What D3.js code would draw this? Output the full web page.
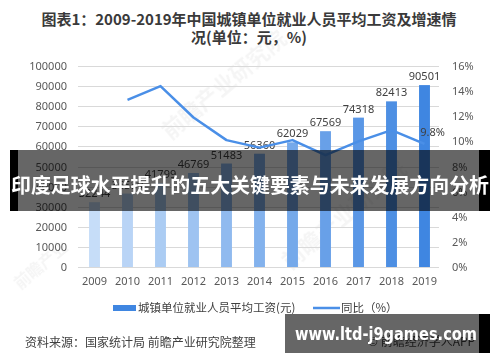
<!DOCTYPE html>
<html>
<head>
<meta charset="utf-8">
<script src="https://cdn.jsdelivr.net/npm/d3@7"></script>
<style>
  body { margin: 0; background: #fff; }
  svg { display: block; font-family: "Noto Sans CJK SC", "Noto Sans", sans-serif; }
</style>
</head>
<body>
<svg id="chart" width="500" height="362"></svg>
<script>
'use strict';

var years = ['2009', '2010', '2011', '2012', '2013', '2014', '2015', '2016', '2017', '2018', '2019'];
var wages = [32244, 36539, 41799, 46769, 51483, 56360, 62029, 67569, 74318, 82413, 90501];
var growth = [null, 13.3, 14.4, 11.9, 10.1, 9.5, 10.1, 8.9, 10.0, 10.9, 9.8];
var leftTicks = [0, 10000, 20000, 30000, 40000, 50000, 60000, 70000, 80000, 90000, 100000];
var rightTicks = [0, 2, 4, 6, 8, 10, 12, 14, 16];

var titleLines = ['图表1：2009-2019年中国城镇单位就业人员平均工资及增速情', '况(单位：元，%)'];
var seriesNames = ['城镇单位就业人员平均工资(元)', '同比（%）'];
var sourceText = '资料来源：国家统计局 前瞻产业研究院整理';
var bannerText = '印度足球水平提升的五大关键要素与未来发展方向分析';
var siteText = 'www.ltd-j9games.com';

(function () {
  var svg = d3.select('#chart');

  var plotLeft = 78,
      plotRight = 441,
      plotTop = 66,
      plotBottom = 267;

  var x = d3.scaleBand().domain(years).range([plotLeft, plotRight]).paddingInner(0.67).paddingOuter(0.335);
  var yL = d3.scaleLinear().domain([0, 100000]).range([plotBottom, plotTop]);
  var yR = d3.scaleLinear().domain([0, 16]).range([plotBottom, plotTop]);
  var barColor = d3.scaleLinear().domain([0, years.length - 1])
      .range(['#c6ddf8', '#3f86e1']).interpolate(d3.interpolateRgb);

  // title
  svg.append('g').selectAll('text').data(titleLines).enter().append('text')
      .attr('x', 249).attr('y', function (d, i) { return 25 + i * 18; })
      .attr('text-anchor', 'middle')
      .attr('font-size', 15).attr('font-weight', 'bold').attr('fill', '#3a3a3a')
      .text(function (d) { return d; });

  // faint watermarks
  var wm = svg.append('g').attr('fill', '#000').attr('opacity', 0.04)
      .attr('font-size', 22).attr('font-weight', 'bold');
  wm.append('text').attr('transform', 'translate(170,140) rotate(-40)').text('前瞻产业研究院');
  wm.append('text').attr('transform', 'translate(290,270) rotate(-40)').text('前瞻产业研究院');
  wm.append('text').attr('transform', 'translate(20,290) rotate(-40)').attr('font-size', 16).text('前瞻产业');

  // gridlines
  svg.append('g').selectAll('line').data(leftTicks).enter().append('line')
      .attr('x1', plotLeft).attr('x2', plotRight - 2)
      .attr('y1', function (d) { return Math.round(yL(d)) + 0.5; })
      .attr('y2', function (d) { return Math.round(yL(d)) + 0.5; })
      .attr('stroke', '#d9d9d9').attr('stroke-width', 1);

  // axes
  var axisL = svg.append('g').attr('transform', 'translate(' + plotLeft + ',0)')
      .call(d3.axisLeft(yL).tickValues(leftTicks).tickSize(0).tickPadding(11).tickFormat(d3.format('d')));
  var axisR = svg.append('g').attr('transform', 'translate(' + plotRight + ',0)')
      .call(d3.axisRight(yR).tickValues(rightTicks).tickSize(0).tickPadding(11)
        .tickFormat(function (d) { return d + '%'; }));
  var axisB = svg.append('g').attr('transform', 'translate(0,' + plotBottom + ')')
      .call(d3.axisBottom(x).tickSize(0).tickPadding(10));
  [axisL, axisR, axisB].forEach(function (a) {
    a.select('.domain').remove();
    a.selectAll('text').attr('font-size', 11).attr('fill', '#595959')
        .attr('font-family', '"Noto Sans", sans-serif');
  });

  // bars
  svg.append('g').selectAll('rect').data(wages).enter().append('rect')
      .attr('x', function (d, i) { return x(years[i]); })
      .attr('width', x.bandwidth())
      .attr('y', function (d) { return yL(d); })
      .attr('height', function (d) { return plotBottom - yL(d); })
      .attr('fill', function (d, i) { return barColor(i); });

  svg.append('g').selectAll('text').data(wages).enter().append('text')
      .attr('x', function (d, i) { return x(years[i]) + x.bandwidth() / 2; })
      .attr('y', function (d) { return yL(d) - 5; })
      .attr('text-anchor', 'middle').attr('font-size', 11).attr('fill', '#404040')
      .attr('font-family', '"Noto Sans", sans-serif')
      .text(function (d) { return d; });

  // growth line
  var line = d3.line()
      .defined(function (d) { return d !== null; })
      .x(function (d, i) { return x(years[i]) + x.bandwidth() / 2; })
      .y(function (d) { return yR(d); });

  svg.append('path').datum(growth)
      .attr('d', line)
      .attr('fill', 'none').attr('stroke', '#4a8fe7').attr('stroke-width', 2.5)
      .attr('stroke-linejoin', 'round');

  var last = growth.length - 1;
  svg.append('text')
      .attr('x', x(years[last]) + x.bandwidth() / 2 + 8)
      .attr('y', yR(growth[last]) - 8)
      .attr('text-anchor', 'middle').attr('font-size', 11).attr('fill', '#404040')
      .attr('font-family', '"Noto Sans", sans-serif')
      .text(growth[last].toFixed(1) + '%');

  // legend
  var legend = svg.append('g').attr('font-size', 11.5).attr('fill', '#404040');
  legend.append('rect').attr('x', 113).attr('y', 305).attr('width', 23).attr('height', 6).attr('fill', '#3f86e1');
  legend.append('text').attr('x', 138).attr('y', 312).text(seriesNames[0]);
  legend.append('line').attr('x1', 313).attr('x2', 340).attr('y1', 308).attr('y2', 308)
      .attr('stroke', '#4a8fe7').attr('stroke-width', 2.5);
  legend.append('text').attr('x', 341).attr('y', 312).text(seriesNames[1]);

  // source
  svg.append('text').attr('x', 25).attr('y', 347).attr('font-size', 12).attr('fill', '#404040')
      .text(sourceText);
  svg.append('text').attr('x', 368).attr('y', 346).attr('font-size', 12).attr('fill', '#404040')
      .text('© 前瞻经济学人APP');

  // banner overlay: black edge strips, translucent middle
  svg.append('rect').attr('x', 10).attr('y', 150).attr('width', 8).attr('height', 61).attr('fill', '#000');
  svg.append('rect').attr('x', 479).attr('y', 150).attr('width', 11).attr('height', 61).attr('fill', '#000');
  svg.append('rect').attr('x', 18).attr('y', 150).attr('width', 461).attr('height', 61)
      .attr('fill', '#000').attr('opacity', 0.6);
  svg.append('text').attr('x', 250).attr('y', 193).attr('text-anchor', 'middle')
      .attr('font-size', 20).attr('font-weight', 'bold').attr('fill', '#fff')
      .attr('textLength', 478).attr('lengthAdjust', 'spacingAndGlyphs')
      .text(bannerText);

  // site box
  svg.append('rect').attr('x', 479).attr('y', 314).attr('width', 11).attr('height', 39).attr('fill', '#000');
  svg.append('rect').attr('x', 285).attr('y', 314).attr('width', 194).attr('height', 39)
      .attr('fill', '#000').attr('opacity', 0.6);
  svg.append('text').attr('x', 386).attr('y', 340).attr('text-anchor', 'middle')
      .attr('font-size', 17).attr('font-weight', 'bold').attr('fill', '#fff')
      .attr('font-family', '"DejaVu Sans", sans-serif')
      .attr('textLength', 182).attr('lengthAdjust', 'spacingAndGlyphs')
      .text(siteText);
})();
</script>
</body>
</html>
